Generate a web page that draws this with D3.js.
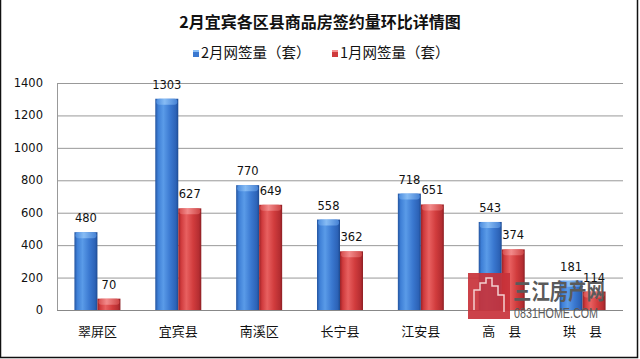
<!DOCTYPE html>
<html><head><meta charset="utf-8">
<script src="https://cdn.jsdelivr.net/npm/d3@7"></script>
<style>body{margin:0;background:#fff}svg{display:block}</style>
</head><body>
<script>
const categories = ["翠屏区","宜宾县","南溪区","长宁县","江安县","高　县","珙　县"];
const febValues = [480,1303,770,558,718,543,181];
const janValues = [70,627,649,362,651,374,114];
const seriesNames = ["2月网签量（套）","1月网签量（套）"];
const yTicks = [0,200,400,600,800,1000,1200,1400];
const titleText = "2月宜宾各区县商品房签约量环比详情图";

const W=640,H=359;
const svg=d3.select("body").append("svg").attr("width",W).attr("height",H);
const defs=svg.append("defs");
function grad(id,stops){
  const g=defs.append("linearGradient").attr("id",id).attr("x1","0").attr("x2","1").attr("y1","0").attr("y2","0");
  stops.forEach(s=>g.append("stop").attr("offset",s[0]).attr("stop-color",s[1]));
}
grad("gBlue",[[0,"#24549f"],[0.12,"#3e7fd6"],[0.35,"#5a9be8"],[0.65,"#3a78d0"],[0.9,"#2c62b6"],[1,"#1d4a90"]]);
grad("gRed",[[0,"#9a2227"],[0.12,"#cf3a3c"],[0.35,"#e86060"],[0.65,"#d13c3d"],[0.9,"#b42d31"],[1,"#8c1f24"]]);
grad("gBlueTop",[[0,"#4f8fe0"],[0.4,"#8cc0f6"],[1,"#4a86d8"]]);
grad("gRedTop",[[0,"#d85050"],[0.4,"#f49090"],[1,"#d04848"]]);

const x=d3.scaleBand().domain(categories).range([57,623]);
const y=d3.scaleLinear().domain([0,1400]).range([310,83]);
const bw=23;

// gridlines
svg.append("g").selectAll("line").data(yTicks).join("line")
  .attr("x1",57).attr("x2",623).attr("y1",d=>y(d)+0.5).attr("y2",d=>y(d)+0.5)
  .attr("stroke",d=>d===0?"#888":"#999").attr("stroke-width",1);
svg.append("line").attr("x1",57.5).attr("x2",57.5).attr("y1",y(1400)).attr("y2",y(0)).attr("stroke","#999");

// y labels
svg.append("g").selectAll("text").data(yTicks).join("text")
  .attr("x",43).attr("y",d=>y(d)+4).attr("text-anchor","end")
  .attr("font-family","DejaVu Sans").attr("font-size",11.5).attr("fill","#111").text(d=>d);

// bars
const series=[{vals:febValues,fill:"url(#gBlue)",top:"url(#gBlueTop)",off:-bw},{vals:janValues,fill:"url(#gRed)",top:"url(#gRedTop)",off:0}];
series.forEach(s=>{
  const g=svg.append("g");
  categories.forEach((c,i)=>{
    const cx=x(c)+x.bandwidth()/2+s.off;
    const v=s.vals[i];
    const yt=y(v);
    g.append("rect").attr("x",cx).attr("y",yt).attr("width",bw).attr("height",y(0)-yt).attr("fill",s.fill);
    g.append("rect").attr("x",cx+1).attr("y",yt).attr("width",bw-2).attr("height",Math.min(6,y(0)-yt)).attr("rx",3).attr("fill",s.top).attr("opacity",0.9);
  });
});

// watermark (drawn over bars as in the reference)
const wm=svg.append("g");
wm.append("rect").attr("x",468).attr("y",273).attr("width",42).attr("height",46).attr("fill","#c8323a").attr("opacity",0.92);
wm.append("path").attr("d","M474,310 L474,290 L480,290 L480,283 L486,283 L486,278 L492,278 L492,286 L498,286 L498,295 L504,295 L504,312").attr("fill","none").attr("stroke","#f4d0d0").attr("stroke-width",1.5);
wm.append("text").attr("x",513).attr("y",299).attr("font-family","Noto Sans CJK SC").attr("font-weight","bold").attr("font-size",22)
  .attr("fill","#5a5a5a").attr("textLength",92).attr("lengthAdjust","spacingAndGlyphs").text("三江房产网");
wm.append("text").attr("x",514).attr("y",318).attr("font-family","Liberation Sans").attr("font-size",14)
  .attr("fill","#5a5a5a").attr("textLength",84).attr("lengthAdjust","spacingAndGlyphs").text("0831HOME.COM");

// value labels
series.forEach(s=>{
  categories.forEach((c,i)=>{
    const cx=x(c)+x.bandwidth()/2+s.off;
    const v=s.vals[i];
    svg.append("text").attr("x",cx+bw/2).attr("y",y(v)-10).attr("text-anchor","middle")
      .attr("font-family","DejaVu Sans").attr("font-size",11.5).attr("fill","#111").text(v);
  });
});

// category labels
svg.append("g").selectAll("text").data(categories).join("text")
  .attr("x",d=>x(d)+x.bandwidth()/2).attr("y",336).attr("text-anchor","middle")
  .attr("font-family","Noto Sans CJK SC").attr("font-size",13).attr("fill","#111").text(d=>d);

// title
svg.append("text").attr("x",320).attr("y",28).attr("text-anchor","middle")
  .attr("font-family","Noto Sans CJK SC").attr("font-weight","bold").attr("font-size",16).attr("fill","#111").text(titleText);

// legend
const leg=[{x:193,c1:"#3a78d0",c2:"#8cc0f6",t:seriesNames[0]},{x:332,c1:"#cf3a3c",c2:"#f49090",t:seriesNames[1]}];
leg.forEach(l=>{
  svg.append("rect").attr("x",l.x).attr("y",50).attr("width",6).attr("height",7).attr("fill",l.c1);
  svg.append("rect").attr("x",l.x).attr("y",50).attr("width",6).attr("height",2).attr("fill",l.c2);
  svg.append("text").attr("x",l.x+8).attr("y",58).attr("font-family","Noto Sans CJK SC").attr("font-size",14.5).attr("fill","#111").text(l.t);
});

// border
svg.append("path").attr("d","M0.5,0 L0.5,357.5 L637.5,357.5 L637.5,0").attr("fill","none").attr("stroke","#111").attr("stroke-width",1.5);
</script>
</body></html>
